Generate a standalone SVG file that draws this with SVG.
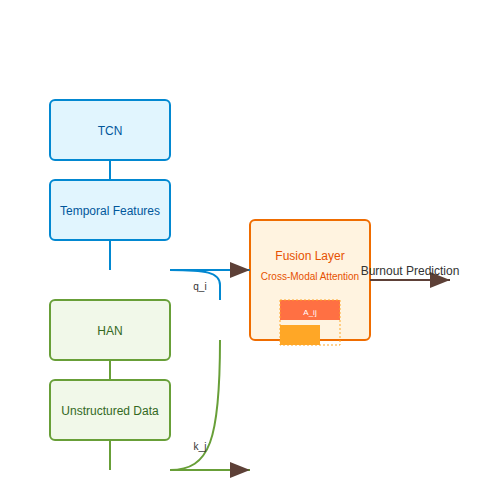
<svg xmlns="http://www.w3.org/2000/svg" width="500" height="500" viewBox="0 0 500 500">
<defs>
<marker id="arr" markerWidth="10" markerHeight="8" refX="10" refY="4" orient="auto" markerUnits="strokeWidth">
<path d="M0,0 L10,4 L0,8 Z" fill="#5d4037"/>
</marker>
<style>
text{font-family:"Liberation Sans",Arial,sans-serif;text-anchor:middle}
.blue rect{fill:#e1f5fe;stroke:#0288d1;stroke-width:2}
.blue text{fill:#01579b;font-size:12px}
.green rect{fill:#f1f8e9;stroke:#689f38;stroke-width:2}
.green text{fill:#33691e;font-size:12px}
.lb{stroke:#0288d1;stroke-width:2;fill:none}
.lg{stroke:#689f38;stroke-width:2;fill:none}
.lab{fill:#333;font-size:10px}
</style>
</defs>
<rect width="500" height="500" fill="#fff"/>
<g id="tcn" class="blue"><rect x="50" y="100" width="120" height="60" rx="5"/><text x="110" y="135">TCN</text></g>
<g id="temporal" class="blue"><rect x="50" y="180" width="120" height="60" rx="5"/><text x="110" y="215">Temporal Features</text></g>
<g id="han" class="green"><rect x="50" y="300" width="120" height="60" rx="5"/><text x="110" y="335">HAN</text></g>
<g id="unstructured" class="green"><rect x="50" y="380" width="120" height="60" rx="5"/><text x="110" y="415">Unstructured Data</text></g>
<g id="fusion">
<rect x="250" y="220" width="120" height="120" rx="5" fill="#fff3e0" stroke="#ef6c00" stroke-width="2"/>
<text x="310" y="260" fill="#e65100" font-size="12">Fusion Layer</text>
<text x="310" y="280" fill="#e65100" font-size="10">Cross-Modal Attention</text>
<rect x="280" y="300" width="60" height="20" fill="#ff7043"/>
<rect x="280" y="325" width="40" height="20" fill="#ffa726"/>
<rect x="280" y="300" width="60" height="45" fill="none" stroke="#ffa726" stroke-width="1" stroke-dasharray="2,2"/>
<text x="310" y="315" fill="#fff" font-size="8">A_ij</text>
</g>
<g id="connectors">
<line class="lb" x1="110" y1="160" x2="110" y2="180"/>
<line class="lb" x1="110" y1="240" x2="110" y2="270"/>
<line class="lb" x1="170" y1="270" x2="250" y2="270" marker-end="url(#arr)"/>
<path class="lb" d="M170,270 C205,270 220,272 220,285 L220,300"/>
<line class="lg" x1="110" y1="360" x2="110" y2="380"/>
<line class="lg" x1="110" y1="440" x2="110" y2="470"/>
<line class="lg" x1="170" y1="470" x2="250" y2="470" marker-end="url(#arr)"/>
<path class="lg" d="M170,470 C210,470 220,440 220,340"/>
<line x1="370" y1="280" x2="450" y2="280" stroke="#5d4037" stroke-width="2" marker-end="url(#arr)"/>
<text class="lab" x="200" y="290">q_i</text>
<text class="lab" x="200" y="450">k_j</text>
<text x="410" y="275" fill="#333" font-size="12">Burnout Prediction</text>
</g>
</svg>
